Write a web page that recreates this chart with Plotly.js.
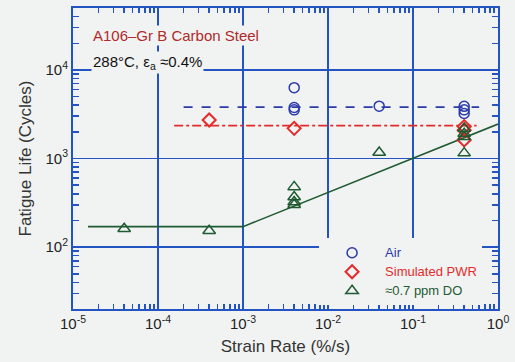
<!DOCTYPE html>
<html>
<head>
<meta charset="utf-8">
<script src="https://cdn.plot.ly/plotly-3.0.1.min.js"></script>
<style>html,body{margin:0;padding:0;background:#f1f3f3;}</style>
</head>
<body>
<div id="chart" style="width:515px;height:362px;"></div>
<script>
// Data (strain rate %/s, fatigue life cycles)
const airX = [0.004, 0.004, 0.004, 0.04, 0.4, 0.4, 0.4];
const airY = [6300, 3760, 3540, 3900, 3880, 3540, 3230];
const pwrX = [0.0004, 0.004, 0.4, 0.4, 0.4];
const pwrY = [2720, 2190, 2290, 2090, 1620];
const doX = [0.00004, 0.0004, 0.004, 0.004, 0.004, 0.004, 0.04, 0.4, 0.4, 0.4, 0.4];
const doY = [161, 153, 478, 368, 323, 301, 1170, 2180, 1910, 1760, 1150];
const airMeanX = [0.0002, 0.6];
const airMeanY = [3800, 3800];
const pwrMeanX = [0.000155, 0.56];
const pwrMeanY = [2350, 2350];
const doFitX = [0.000015, 0.001, 1];
const doFitY = [170, 170, 2450];
const xTickVals = [1e-5, 1e-4, 1e-3, 1e-2, 1e-1, 1];
const xTickText = ['10<sup>-5</sup>', '10<sup>-4</sup>', '10<sup>-3</sup>', '10<sup>-2</sup>', '10<sup>-1</sup>', '10<sup>0</sup>'];
const yTickVals = [100, 1000, 10000];
const yTickText = ['10<sup>2</sup>', '10<sup>3</sup>', '10<sup>4</sup>'];

function minorVals(lo, hi) {
  const v = [];
  for (let e = lo; e < hi; e++) for (let m = 2; m <= 9; m++) v.push(m * Math.pow(10, e));
  return v;
}

const blue = '#2b3aa8', red = '#e42a2a', green = '#1f5a30', grid = '#2453c4';
function legName(t, c) { return '<span style="font-size:13px;fill:' + c + ';color:' + c + '">' + t + '</span>'; }

const traces = [
  {x: airMeanX, y: airMeanY, mode: 'lines', line: {color: blue, width: 1.6, dash: 'dash'}, showlegend: false, hoverinfo: 'skip'},
  {x: pwrMeanX, y: pwrMeanY, mode: 'lines', line: {color: red, width: 1.6, dash: 'dashdot'}, showlegend: false, hoverinfo: 'skip'},
  {x: doFitX, y: doFitY, mode: 'lines', line: {color: green, width: 1.6}, showlegend: false, hoverinfo: 'skip'},
  {x: airX, y: airY, mode: 'markers', name: legName('Air', blue),
   marker: {symbol: 'circle-open', size: 10, color: blue, line: {width: 1.5, color: blue}}},
  {x: pwrX, y: pwrY, mode: 'markers', name: legName('Simulated PWR', red),
   marker: {symbol: 'diamond-open', size: 10, color: red, line: {width: 2, color: red}}},
  {x: doX, y: doY, mode: 'markers', name: legName('≈0.7 ppm DO', green),
   marker: {symbol: 'triangle-up-open', size: 11, color: green, line: {width: 1.5, color: green}}}
];

const axisCommon = {
  type: 'log',
  tickmode: 'array',
  showline: true, linecolor: grid, linewidth: 2, mirror: 'ticks',
  ticks: 'inside', ticklen: 7, tickcolor: grid, tickwidth: 1.5,
  showgrid: true, gridcolor: grid, gridwidth: 1.5,
  zeroline: false,
  tickfont: {family: 'Liberation Sans, Arial, sans-serif', size: 15, color: '#222'}
};

const layout = {
  width: 515, height: 362,
  margin: {l: 73, r: 17, t: 8, b: 53},
  paper_bgcolor: '#f1f3f3', plot_bgcolor: '#f1f3f3',
  font: {family: 'Liberation Sans, Arial, sans-serif', size: 13, color: '#222'},
  xaxis: Object.assign({}, axisCommon, {
    range: [-5, 0],
    tickvals: xTickVals, ticktext: xTickText,
    minor: {tickmode: 'array', tickvals: minorVals(-5, 0), ticks: 'inside', ticklen: 5, tickcolor: grid, tickwidth: 1.5, showgrid: false},
    title: {text: 'Strain Rate (%/s)', font: {size: 17, color: '#333'}, standoff: 9}
  }),
  yaxis: Object.assign({}, axisCommon, {
    range: [Math.log10(20), Math.log10(50000)],
    tickvals: yTickVals, ticktext: yTickText,
    minor: {tickmode: 'array', tickvals: minorVals(1, 5), ticks: 'inside', ticklen: 6, tickcolor: grid, tickwidth: 1.5, showgrid: false},
    title: {text: 'Fatigue Life (Cycles)', font: {size: 17, color: '#333'}, standoff: 10}
  }),
  legend: {
    x: 0.579, y: 0.235, xanchor: 'left', yanchor: 'top',
    bgcolor: '#f1f3f3', borderwidth: 0,
    font: {size: 10}, tracegroupgap: 0, itemwidth: 56
  },
  annotations: [
    {xref: 'paper', yref: 'paper', x: 0.042, y: 0.91, xanchor: 'left', yanchor: 'middle', showarrow: false,
     text: 'A106–Gr B Carbon Steel', font: {size: 15, color: '#b02a2a'}, bgcolor: '#f1f3f3'},
    {xref: 'paper', yref: 'paper', x: 0.042, y: 0.82, xanchor: 'left', yanchor: 'middle', showarrow: false,
     text: '288°C, ε<sub>a</sub> ≈0.4%', font: {size: 15, color: '#111'}, bgcolor: '#f1f3f3'}
  ]
};

Plotly.newPlot('chart', traces, layout, {displayModeBar: false, staticPlot: true});
</script>
</body>
</html>
